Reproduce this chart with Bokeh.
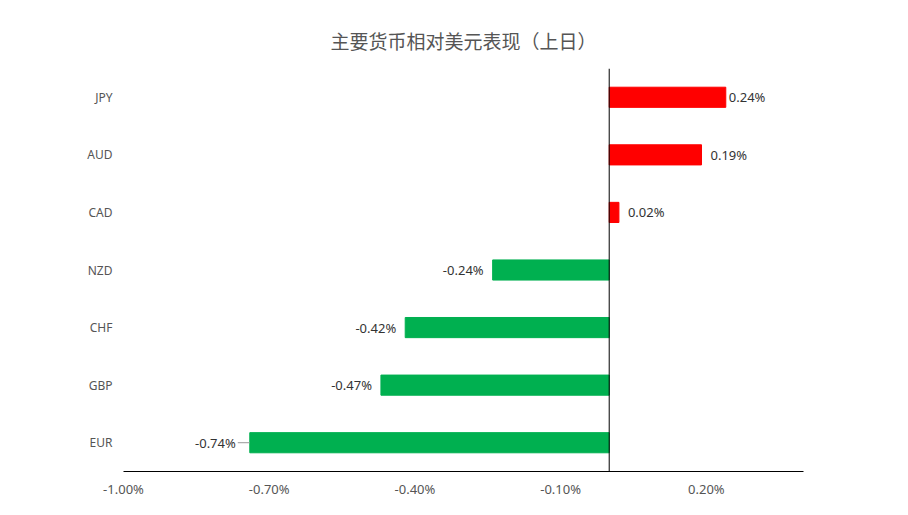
from math import pi
from bokeh.plotting import figure
from bokeh.models import ColumnDataSource, FactorRange, Range1d, FixedTicker, PrintfTickFormatter, Span
from bokeh.core.properties import value
from bokeh.embed import file_html
from bokeh.resources import INLINE

title_text = "主要货币相对美元表现（上日）"
currencies = ["JPY", "AUD", "CAD", "NZD", "CHF", "GBP", "EUR"]
changes = [0.24, 0.19, 0.02, -0.24, -0.42, -0.47, -0.74]
x_ticks = [-1.0, -0.7, -0.4, -0.1, 0.2]

POS = "#FF0000"
NEG = "#00B050"
LATIN = "Noto Sans"

colors = [POS if v >= 0 else NEG for v in changes]
labels = ["%.2f%%" % v for v in changes]
aligns = ["left" if v >= 0 else "right" for v in changes]
offsets = []
for c, v in zip(currencies, changes):
    if c == "EUR":
        offsets.append(-14)
    elif c == "JPY":
        offsets.append(3)
    else:
        offsets.append(9 if v >= 0 else -9)

src = ColumnDataSource(dict(cat=currencies, val=changes, color=colors,
                            label=labels, align=aligns, xoff=offsets))

p = figure(width=892, height=507, output_backend="svg", toolbar_location=None,
           y_range=FactorRange(factors=list(reversed(currencies)), range_padding=0),
           x_range=Range1d(-1.0, 0.4),
           min_border_left=123, min_border_right=89, min_border_top=68, min_border_bottom=36,
           title=title_text)

p.title.align = "center"
p.title.offset = -9
p.title.text_font = "Noto Sans CJK SC"
p.title.text_font_size = "19px"
p.title.text_font_style = "normal"
p.title.text_color = "#555555"
p.title.standoff = 29

p.outline_line_color = None
p.background_fill_color = "white"
p.xgrid.visible = False
p.ygrid.visible = False

p.hbar(y="cat", left=0, right="val", height=0.35, color="color", source=src)

p.add_layout(Span(location=0, dimension="height", line_color="black", line_width=1))

p.text(x="val", y="cat", text="label", x_offset="xoff", text_align="align",
       text_baseline="middle", text_font=value(LATIN), text_font_size="13px",
       text_color="#333333", source=src)

eur_src = ColumnDataSource(dict(x=[v for c, v in zip(currencies, changes) if c == "EUR"],
                                y=[c for c in currencies if c == "EUR"]))
p.ray(x="x", y="y", length=12, length_units="screen", angle=pi, line_color="#999999",
      line_width=1, source=eur_src)

xa = p.xaxis[0]
xa.ticker = FixedTicker(ticks=x_ticks)
xa.formatter = PrintfTickFormatter(format="%.2f%%")
xa.axis_line_color = "black"
xa.major_tick_line_color = None
xa.minor_tick_line_color = None
xa.major_label_standoff = 2
xa.major_label_text_font = LATIN
xa.major_label_text_font_size = "13px"
xa.major_label_text_color = "#555555"

ya = p.yaxis[0]
ya.axis_line_color = None
ya.major_tick_line_color = None
ya.minor_tick_line_color = None
ya.major_label_standoff = 5
ya.major_label_text_font = LATIN
ya.major_label_text_font_size = "12px"
ya.major_label_text_color = "#555555"

open("out.html", "w").write(file_html(p, INLINE))
